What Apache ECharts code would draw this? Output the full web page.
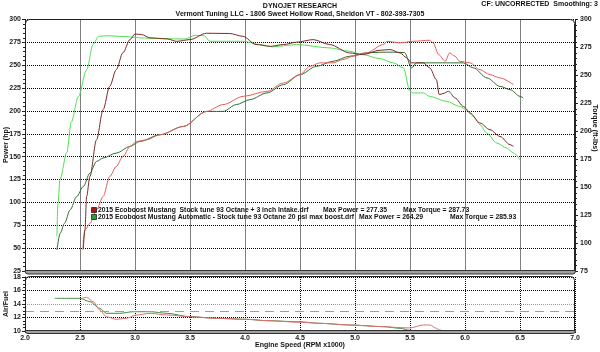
<!DOCTYPE html>
<html>
<head>
<meta charset="utf-8">
<script src="https://cdn.jsdelivr.net/npm/echarts@6/dist/echarts.min.js"></script>
<style>
  html, body { margin: 0; padding: 0; background: #fff; }
  #chart { width: 600px; height: 352px; }
</style>
</head>
<body>
<div id="chart"></div>
<script>
// run 1: stock tune + 3 inch intake (reds), run 2: automatic 20 psi (greens)
const pw1Rpm = [2.528, 2.532, 2.545, 2.59, 2.65, 2.71, 2.77, 2.83, 2.89, 2.955, 3.015, 3.106, 3.227, 3.44, 3.65, 3.8, 3.985, 4.2, 4.35, 4.5, 4.59, 4.68, 4.8, 4.89, 4.985, 5.1, 5.26, 5.29, 5.41, 5.53, 5.68, 5.71, 5.76, 5.82, 5.86, 5.91, 5.95, 6.045, 6.136, 6.227, 6.318, 6.44];
const pw1Hp = [48, 62.6, 70, 77, 91.8, 106.4, 128.3, 139.3, 150.2, 161.2, 166.7, 168.5, 174, 183.1, 199.5, 206.9, 216, 221.4, 230.6, 239.7, 248.8, 252.6, 252.6, 256.2, 259.8, 263.5, 272.6, 276.2, 274.5, 276.2, 277.3, 274.5, 261.7, 254.3, 263.5, 259.8, 254.3, 252.6, 245.2, 239.7, 236.1, 228.8];

const tq1Rpm = [2.53, 2.545, 2.56, 2.59, 2.65, 2.71, 2.77, 2.83, 2.89, 2.955, 3.0, 3.06, 3.136, 3.288, 3.38, 3.5, 3.65, 3.86, 3.98, 4.1, 4.23, 4.35, 4.47, 4.62, 4.77, 4.95, 5.07, 5.227, 5.318, 5.41, 5.47, 5.515, 5.62, 5.68, 5.74, 5.766, 5.8, 5.85, 5.91, 5.985, 6.045, 6.136, 6.227, 6.318, 6.41, 6.44];
const tq1Ft = [95, 111.7, 141.6, 159.5, 192.4, 219.3, 240.2, 255.2, 270.2, 282.1, 287, 286.6, 283.6, 282.7, 280.5, 282, 287.7, 287.5, 285, 277.6, 276, 277.6, 279.7, 282, 277.6, 270.1, 268.6, 272.5, 273.1, 270.1, 265.7, 261.2, 261.2, 256.7, 246.2, 232.8, 233.7, 235.7, 229.8, 222.3, 216.4, 207.4, 201.4, 195.4, 188, 186.4];

const pw2Rpm = [2.29, 2.32, 2.36, 2.41, 2.47, 2.53, 2.59, 2.65, 2.71, 2.83, 2.955, 3.045, 3.227, 3.44, 3.65, 3.68, 3.8, 3.92, 4.045, 4.2, 4.35, 4.5, 4.65, 4.8, 4.95, 5.1, 5.227, 5.35, 5.45, 5.515, 5.56, 5.68, 5.83, 5.985, 6.076, 6.2, 6.318, 6.41, 6.5, 6.53];
const pw2Hp = [48, 66.3, 77.3, 91.8, 106.4, 117.4, 132, 144.8, 148.5, 154, 161.2, 166.7, 174, 183.1, 199.5, 199.5, 199.5, 206.9, 212.4, 219.7, 228.8, 239.7, 248.8, 254.3, 259.8, 263.5, 264.2, 264.3, 263.8, 247.1, 252.6, 252.6, 252.6, 252.6, 247.1, 236.1, 226.9, 223.3, 216, 214.2];

const tq2Rpm = [2.29, 2.3, 2.318, 2.38, 2.42, 2.485, 2.56, 2.62, 2.67, 2.75, 2.85, 2.95, 3.05, 3.2, 3.35, 3.45, 3.55, 3.63, 3.68, 3.98, 4.14, 4.25, 4.35, 4.47, 4.77, 4.95, 5.07, 5.227, 5.35, 5.44, 5.5, 5.53, 5.62, 5.68, 5.83, 5.95, 6.015, 6.076, 6.136, 6.197, 6.288, 6.38, 6.44, 6.5];
const tq2Ft = [106, 136, 157, 181, 208, 231, 255, 278, 285, 285.5, 285, 284.5, 283.5, 283, 282.7, 282.5, 285.9, 285.5, 280.5, 280.5, 277.6, 275.5, 276.5, 277.6, 274.6, 271.6, 268.6, 265, 261.2, 256.7, 235.7, 234.3, 234.3, 231.2, 226.8, 222.3, 219.3, 213.3, 205.9, 198.4, 189.5, 185, 180.5, 174.5];

const afr1Rpm = [2.515, 2.56, 2.62, 2.68, 2.74, 2.83, 2.92, 3.015, 3.136, 3.29, 3.5, 3.74, 4.015, 4.2, 4.5, 4.68, 4.95, 5.26, 5.41, 5.5, 5.62, 5.68, 5.74, 5.77, 5.82, 6.0, 6.2, 6.44];
const afr1 = [14.84, 14.99, 14.34, 13.11, 12.12, 11.73, 11.88, 12.37, 12.62, 12.37, 12.12, 11.88, 11.73, 11.53, 11.3, 11.14, 10.89, 10.64, 10.5, 10.45, 10.89, 10.89, 10.4, 10.15, 10, 10, 10, 10];
const afr2Rpm = [2.27, 2.5, 2.59, 2.68, 2.74, 2.86, 2.985, 3.136, 3.29, 3.5, 3.74, 4.015, 4.2, 4.5, 4.68, 4.95, 5.26, 5.41, 5.5, 5.6, 6.0, 6.53];
const afr2 = [14.84, 14.84, 14.34, 13.36, 12.62, 12.62, 12.86, 12.86, 12.62, 12.12, 11.88, 11.73, 11.53, 11.35, 11.14, 10.89, 10.64, 10.4, 10.1, 10, 10, 10];

const afrTarget = 13;
const rpmTicks = [2, 7, 0.5];     // min, max, step
const powerTicks = [25, 300, 25];
const torqueTicks = [75, 300, 25];
const afrTicks = [10, 18, 2];

// file name, max power, max torque
const legendRows = [
  ['2015 Ecoboost Mustang  Stock tune 93 Octane + 3 inch Intake.drf', 'Max Power = 277.35', 'Max Torque = 287.73'],
  ['2015 Ecoboost Mustang Automatic - Stock tune 93 Octane 20 psi max boost.drf', 'Max Power = 264.29', 'Max Torque = 285.93']
];

const zip = (xs, ys) => xs.map((x, i) => [x, ys[i]]);

const FONT = 'Liberation Sans';
const lbl = { fontFamily: FONT, fontSize: 7, fontWeight: 'bold', color: '#222' };
const dots = { color: '#000', type: [1, 1], width: 1 };

const chart = echarts.init(document.getElementById('chart'));

function line(name, data, color, xi, yi, extra) {
  return Object.assign({
    name, type: 'line', data, xAxisIndex: xi, yAxisIndex: yi,
    symbol: 'none', smooth: 0.3, smoothMonotone: 'x',
    lineStyle: { color, width: 1 }, itemStyle: { color },
    clip: true, silent: true
  }, extra || {});
}

function txt(x, y, text, size, align, rotation) {
  return {
    type: 'text', z: 60, x, y, rotation: rotation || 0,
    style: { text, font: 'bold ' + size + 'px ' + FONT, fill: '#111', align: align || 'left', verticalAlign: 'middle' }
  };
}

// legend text columns (x positions)
const legX = [[98, 323, 403], [98, 359, 450]];
const legY = [210.5, 217.5];
const legendTexts = [];
legendRows.forEach((row, r) => row.forEach((t, c) => legendTexts.push(txt(legX[r][c], legY[r], t, 6.8))));

chart.setOption({
  animation: false,
  grid: [
    { left: 25, right: 25, top: 19.5, height: 251.5 },
    { left: 25, right: 25, top: 277, height: 54 }
  ],
  xAxis: [
    {
      gridIndex: 0, type: 'value', min: rpmTicks[0], max: rpmTicks[1], interval: rpmTicks[2],
      axisLabel: { show: false }, axisTick: { show: false },
      axisLine: { show: false },
      splitLine: { show: true, lineStyle: dots }
    },
    {
      gridIndex: 1, type: 'value', min: rpmTicks[0], max: rpmTicks[1], interval: rpmTicks[2],
      axisLabel: Object.assign({ margin: 4, formatter: v => v.toFixed(1) }, lbl),
      axisTick: { show: true, length: 2, lineStyle: { color: '#222' } },
      minorTick: { show: true, splitNumber: 5, length: 2, lineStyle: { color: '#222' } },
      axisLine: { show: false },
      splitLine: { show: true, lineStyle: dots }
    }
  ],
  yAxis: [
    {
      gridIndex: 0, type: 'value', position: 'left', min: powerTicks[0], max: powerTicks[1], interval: powerTicks[2],
      axisLabel: Object.assign({ margin: 4 }, lbl),
      axisLine: { show: true, lineStyle: { color: '#222' } },
      axisTick: { show: true, length: 3, lineStyle: { color: '#222' } },
      minorTick: { show: true, splitNumber: 5, length: 2, lineStyle: { color: '#222' } },
      splitLine: { show: true, lineStyle: dots }
    },
    {
      gridIndex: 0, type: 'value', position: 'right', min: torqueTicks[0], max: torqueTicks[1], interval: torqueTicks[2],
      axisLabel: Object.assign({ margin: 5 }, lbl),
      axisLine: { show: true, lineStyle: { color: '#222' } },
      axisTick: { show: true, length: 3, lineStyle: { color: '#222' } },
      minorTick: { show: true, splitNumber: 5, length: 2, lineStyle: { color: '#222' } },
      splitLine: { show: false }
    },
    {
      gridIndex: 1, type: 'value', position: 'left', min: afrTicks[0], max: afrTicks[1], interval: afrTicks[2],
      axisLabel: Object.assign({ margin: 4 }, lbl),
      axisLine: { show: true, lineStyle: { color: '#222' } },
      axisTick: { show: true, length: 3, lineStyle: { color: '#222' } },
      minorTick: { show: true, splitNumber: 4, length: 2, lineStyle: { color: '#222' } },
      splitLine: { show: true, lineStyle: { color: ['#000', '#000', '#999', '#000', '#000'], type: [1, 1] } }
    }
  ],
  graphic: [
    // panel frames
    { type: 'rect', z: 50, shape: { x: 25.5, y: 19.5, width: 549, height: 251.5, r: [4, 4, 0, 0] }, style: { fill: 'none', stroke: '#222', lineWidth: 1 }, silent: true },
    { type: 'rect', z: 50, shape: { x: 25, y: 270.5, width: 550.5, height: 3.5, r: [0, 0, 3, 3] }, style: { fill: '#a0a0a0', stroke: '#333', lineWidth: 1 }, silent: true },
    { type: 'rect', z: 50, shape: { x: 25.5, y: 276.5, width: 549, height: 54.5, r: [4, 4, 0, 0] }, style: { fill: 'none', stroke: '#222', lineWidth: 1 }, silent: true },
    { type: 'rect', z: 50, shape: { x: 25, y: 330.5, width: 550.5, height: 3, r: [0, 0, 3, 3] }, style: { fill: '#a0a0a0', stroke: '#333', lineWidth: 1 }, silent: true },
    // titles
    txt(300, 6, 'DYNOJET RESEARCH', 7, 'center'),
    txt(300, 14.5, 'Vermont Tuning LLC - 1806 Sweet Hollow Road, Sheldon VT - 802-393-7305', 7, 'center'),
    txt(598, 4.5, 'CF: UNCORRECTED  Smoothing: 3', 7, 'right'),
    // axis names
    txt(6, 145, 'Power (hp)', 7, 'center', Math.PI / 2),
    txt(595, 128, 'Torque (ft-lbs)', 7, 'center', -Math.PI / 2),
    txt(6, 304, 'Air/Fuel', 7, 'center', Math.PI / 2),
    txt(300, 345, 'Engine Speed (RPM x1000)', 7, 'center'),
    // legend swatches
    { type: 'rect', z: 60, shape: { x: 91.5, y: 207.5, width: 5, height: 5 }, style: { fill: '#b01010', stroke: '#222', lineWidth: 0.8 } },
    { type: 'rect', z: 60, shape: { x: 91.5, y: 214.5, width: 5, height: 5 }, style: { fill: '#2ca02c', stroke: '#222', lineWidth: 0.8 } }
  ].concat(legendTexts),
  series: [
    line('Power run 2', zip(pw2Rpm, pw2Hp), '#2f6f2f', 0, 0),
    line('Torque run 2', zip(tq2Rpm, tq2Ft), '#4ee04e', 0, 1),
    line('Power run 1', zip(pw1Rpm, pw1Hp), '#e35d5d', 0, 0),
    line('Torque run 1', zip(tq1Rpm, tq1Ft), '#7a2a2a', 0, 1),
    line('AFR run 2', zip(afr2Rpm, afr2), '#3a8f3a', 1, 2, {
      markLine: {
        silent: true, symbol: 'none', label: { show: false },
        lineStyle: { color: '#e08080', type: [9, 6], width: 1 },
        data: [{ yAxis: afrTarget }]
      }
    }),
    line('AFR run 1', zip(afr1Rpm, afr1), '#e07070', 1, 2)
  ]
});
</script>
</body>
</html>
